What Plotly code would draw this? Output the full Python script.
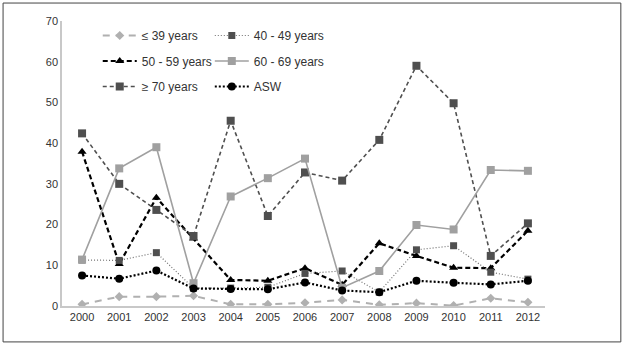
import plotly.graph_objects as go

years = [2000, 2001, 2002, 2003, 2004, 2005, 2006, 2007, 2008, 2009, 2010, 2011, 2012]
le39 = [0.4, 2.3, 2.3, 2.5, 0.4, 0.4, 0.8, 1.5, 0.3, 0.7, 0.1, 1.9, 0.9]
y40_49 = [11.3, 11.2, 13.1, 4.4, 4.4, 4.6, 8.0, 8.6, 3.4, 13.8, 14.8, 8.3, 6.6]
y50_59 = [37.9, 10.3, 26.6, 16.6, 6.4, 6.2, 9.3, 5.2, 15.4, 12.3, 9.4, 9.3, 18.5]
y60_69 = [11.4, 33.8, 39.0, 5.6, 26.9, 31.4, 36.2, 4.5, 8.6, 19.9, 18.8, 33.4, 33.2]
ge70 = [42.4, 30.0, 23.6, 17.2, 45.5, 22.1, 32.8, 30.8, 40.8, 59.0, 49.8, 12.3, 20.3]
asw = [7.5, 6.7, 8.7, 4.3, 4.2, 4.1, 5.8, 3.8, 3.4, 6.2, 5.7, 5.3, 6.2]

fig = go.Figure()

def add(name, y, color, mcolor, dash, width, symbol, msize, legend):
    fig.add_trace(go.Scatter(
        x=years, y=y, name=name, mode="lines+markers",
        line=dict(color=color, dash=dash, width=width),
        marker=dict(symbol=symbol, size=msize, color=mcolor),
        legend=legend, legendgroup=name))

add("≤ 39 years", le39, "#b0b0b0", "#b0b0b0", "7px,6px", 2, "diamond", 7, "legend")
add("50 - 59 years", y50_59, "#000000", "#000000", "5px,3px", 2.2, "triangle-up", 8, "legend")
add("≥ 70 years", ge70, "#4f4f4f", "#4f4f4f", "4px,3px", 1.6, "square", 8, "legend")
add("40 - 49 years", y40_49, "#707070", "#4f4f4f", "1px,2px", 1.2, "square", 7, "legend2")
add("60 - 69 years", y60_69, "#a0a0a0", "#a0a0a0", "solid", 1.6, "square", 8, "legend2")
add("ASW", asw, "#000000", "#000000", "2px,2px", 2.2, "circle", 8, "legend2")

leg_common = dict(font=dict(family="Liberation Sans, Arial", size=12, color="#333"),
                  bgcolor="rgba(0,0,0,0)", tracegroupgap=6.5, yanchor="top",
                  xanchor="left", itemwidth=34)

fig.update_layout(
    width=624, height=347,
    margin=dict(l=62, r=79, t=21, b=41),
    paper_bgcolor="white", plot_bgcolor="white",
    font=dict(family="Liberation Sans, Arial", size=11, color="#333"),
    xaxis=dict(range=[1999.46, 2012.46], tickmode="array", tickvals=years,
               showgrid=False, zeroline=False, showline=True, linecolor="#c8c8c8",
               linewidth=1.5, ticks=""),
    yaxis=dict(range=[0, 70], dtick=10, showgrid=False, zeroline=False,
               showline=True, linecolor="#c8c8c8", linewidth=1.5, ticks=""),
    legend=dict(x=0.074, y=1.0, **leg_common),
    legend2=dict(x=0.306, y=1.0, **leg_common),
    shapes=[dict(type="rect", xref="paper", yref="paper",
                 x0=-0.122, x1=1.157, y0=-0.126, y1=1.063,
                 line=dict(color="#444", width=1))],
)

fig.write_html("out.html", config={"displayModeBar": False},
               post_script="document.body.style.margin='0';")
